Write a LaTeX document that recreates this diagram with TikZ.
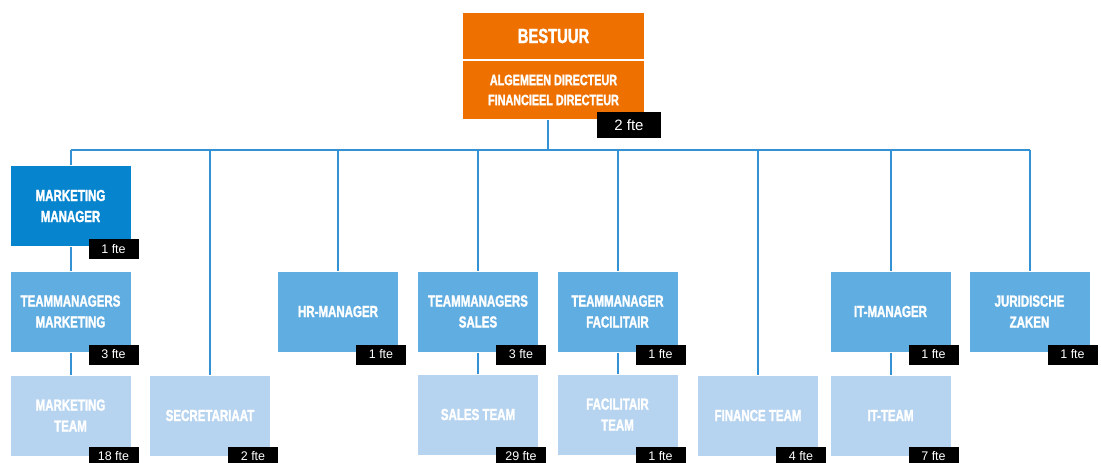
\documentclass[tikz,border=0pt]{standalone}
\usepackage{fontspec}
\setmainfont{Liberation Sans}
\newfontfamily\condfont[FakeStretch=0.72,FakeBold=1.6]{Liberation Sans Bold}
\usetikzlibrary{positioning}
\definecolor{headcolor}{RGB}{238,113,0}
\definecolor{topcolor}{RGB}{6,132,205}
\definecolor{mgrcolor}{RGB}{96,173,226}
\definecolor{teamcolor}{RGB}{182,212,240}
\definecolor{linecolor}{RGB}{52,146,212}

\begin{document}
\begin{tikzpicture}[%
    x=1pt, y=-1pt,             % pixel grid, top-down
    line width=2pt,
    ]
\tikzset{
  base/.style={inner sep=0pt, align=center, text=white,
    minimum width=120pt, minimum height=80pt,
    font=\condfont\fontsize{16}{21}\selectfont},
  head/.style={base, fill=headcolor, minimum width=181pt},
  lead/.style={base, fill=topcolor},
  mgr/.style={base, fill=mgrcolor},
  team/.style={base, fill=teamcolor},
  fte/.style={fill=black, text=white, inner sep=0pt, anchor=north east,
    minimum width=50pt, minimum height=20pt,
    font=\fontsize{12.5}{12.5}\selectfont},
  conn/.style={draw=linecolor},
}
\useasboundingbox (0,0) rectangle (1101,463);

\node [head, minimum height=46pt, font=\condfont\fontsize{20.5}{24}\selectfont] (p0) at (553.5,36) {BESTUUR};
\node [head, minimum height=58pt, font=\condfont\fontsize{15}{20}\selectfont] (p1) at (553.5,90) {ALGEMEEN DIRECTEUR\\FINANCIEEL DIRECTEUR};

\node [lead] (p2) at (70.5,206) {MARKETING\\MANAGER};
\node [mgr] (p3) at (70.5,311.5) {TEAMMANAGERS\\MARKETING};
\node [team] (p4) at (70.5,415.5) {MARKETING\\TEAM};
\node [team] (p5) at (210,415.5) {SECRETARIAAT};
\node [mgr] (p6) at (338,311.5) {HR-MANAGER};
\node [mgr] (p7) at (478,311.5) {TEAMMANAGERS\\SALES};
\node [team] (p8) at (478,414.5) {SALES TEAM};
\node [mgr] (p9) at (617.5,311.5) {TEAMMANAGER\\FACILITAIR};
\node [team] (p10) at (617.5,414.5) {FACILITAIR\\TEAM};
\node [team] (p11) at (758,415.5) {FINANCE TEAM};
\node [mgr] (p12) at (890.5,311.5) {IT-MANAGER};
\node [team] (p13) at (890.5,415.5) {IT-TEAM};
\node [mgr] (p14) at (1029.5,311.5) {JURIDISCHE\\ZAKEN};

%fte labels
\node [fte, minimum width=64pt, minimum height=26pt, font=\fontsize{15}{15}\selectfont] (f1) at ([xshift=17pt,yshift=9pt]p1.south east) {2 fte};
\node [fte] (f2) at ([xshift=8pt,yshift=9pt]p2.south east) {1 fte};
\node [fte] (f3) at ([xshift=8pt,yshift=9pt]p3.south east) {3 fte};
\node [fte] (f4) at ([xshift=8pt,yshift=11pt]p4.south east) {18 fte};
\node [fte] (f5) at ([xshift=8pt,yshift=11pt]p5.south east) {2 fte};
\node [fte] (f6) at ([xshift=8pt,yshift=9pt]p6.south east) {1 fte};
\node [fte] (f7) at ([xshift=8pt,yshift=9pt]p7.south east) {3 fte};
\node [fte] (f8) at ([xshift=8pt,yshift=10pt]p8.south east) {29 fte};
\node [fte] (f9) at ([xshift=8pt,yshift=9pt]p9.south east) {1 fte};
\node [fte] (f10) at ([xshift=8pt,yshift=10pt]p10.south east) {1 fte};
\node [fte] (f11) at ([xshift=8pt,yshift=11pt]p11.south east) {4 fte};
\node [fte] (f12) at ([xshift=8pt,yshift=9pt]p12.south east) {1 fte};
\node [fte] (f13) at ([xshift=8pt,yshift=11pt]p13.south east) {7 fte};
\node [fte] (f14) at ([xshift=8pt,yshift=9pt]p14.south east) {1 fte};

%connect
\coordinate (bus) at (548,150);
\draw [conn] ([xshift=-5.5pt]p1.south) -- (bus);
\draw [conn] (p2.north |- bus) -- (p14.north |- bus);
\draw [conn] (p2.north |- bus) -- (p2.north);
\draw [conn] (p2.south) -- (p3.north);
\draw [conn] (p3.south) -- (p4.north);
\draw [conn] (p5.north |- bus) -- (p5.north);
\draw [conn] (p6.north |- bus) -- (p6.north);
\draw [conn] (p7.north |- bus) -- (p7.north);
\draw [conn] (p7.south) -- (p8.north);
\draw [conn] (p9.north |- bus) -- (p9.north);
\draw [conn] (p9.south) -- (p10.north);
\draw [conn] (p11.north |- bus) -- (p11.north);
\draw [conn] (p12.north |- bus) -- (p12.north);
\draw [conn] (p12.south) -- (p13.north);
\draw [conn] (p14.north |- bus) -- (p14.north);

\end{tikzpicture}
\end{document}
